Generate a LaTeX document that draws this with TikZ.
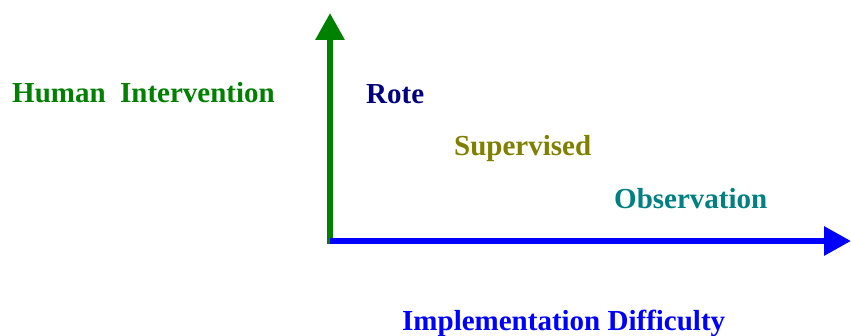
\documentclass[tikz,border=0pt]{standalone}
\usepackage{fontspec}
\setmainfont{Liberation Serif}
\usetikzlibrary{arrows.meta}
\definecolor{axisgreen}{RGB}{0,128,0}
\definecolor{axisblue}{RGB}{0,0,255}
\definecolor{rotenavy}{RGB}{0,0,128}
\definecolor{supolive}{RGB}{128,128,0}
\definecolor{obsteal}{RGB}{0,128,128}
\tikzset{
x=1pt, y=1pt, % one unit is one point
axis/.style={line width=6pt, -{Triangle[length=27pt, width=28pt]}}, % thick axes with big heads
lbl/.style={font=\fontsize{29}{34}\selectfont\bfseries, inner sep=0pt, anchor=base west}, % bold labels
}

\begin{document}
\begin{tikzpicture}
      \useasboundingbox (0,0) rectangle (851,335);
      \coordinate (origin) at (330,94);
      \coordinate (ytop) at (330,322);
      \coordinate (xend) at (851,94);
      \draw[axis, axisgreen] ([yshift=-3pt]origin) -- (ytop);
      \draw[axis, axisblue] (origin) -- (xend);
      \node[lbl, text=axisgreen] (human) at (12,232) {Human\ \ Intervention};
      \node[lbl, text=axisblue] (impl) at (402,5) {Implementation Difficulty};
      \node[lbl, text=rotenavy] (rote) at (366,231) {Rote};
      \node[lbl, text=supolive] (superv) at (454,179) {Supervised};
      \node[lbl, text=obsteal] (observ) at (614,127) {Observation};
    \end{tikzpicture}
\end{document}
